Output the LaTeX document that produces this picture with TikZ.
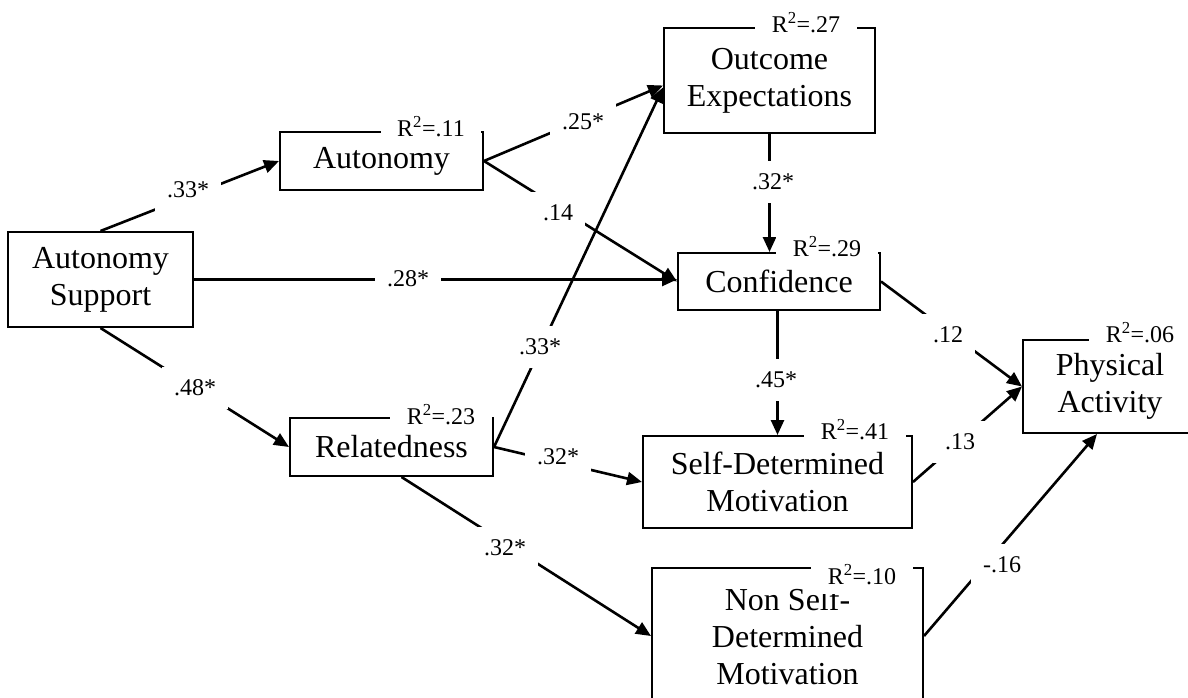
\documentclass[tikz,border=0pt]{standalone}
\usepackage{fontspec}
\setmainfont{Liberation Serif}
\usetikzlibrary{arrows.meta}
\tikzset{
  box/.style={draw, line width=2pt, inner sep=0pt, align=center,
    font=\fontsize{32}{37}\selectfont},
  link/.style={line width=2.6pt, -{Triangle[length=15pt,width=13pt]}},
  coef/.style={fill=white, inner xsep=12pt, inner ysep=13pt,
    font=\fontsize{24}{28}\selectfont},
  rsq/.style={fill=white, inner xsep=16.5pt, inner ysep=9pt,
    font=\fontsize{24}{28}\selectfont},
}
\begin{document}
\begin{tikzpicture}[x=1pt,y=-1pt]
\fill[white] (0,0) rectangle (1188,698);
\useasboundingbox (0,0) rectangle (1188,698);

% constructs
\node[box, minimum width=185pt, minimum height=95pt]  (as)  at (100.5,279.5) {Autonomy\\Support};
\node[box, minimum width=203pt, minimum height=58pt]  (aut) at (381.5,161)   {Autonomy};
\node[box, minimum width=211pt, minimum height=105pt] (out) at (769.5,80.5)  {Outcome\\Expectations};
\node[box, minimum width=202pt, minimum height=57pt]  (con) at (779,281.5)   {Confidence};
\node[box, minimum width=203pt, minimum height=58pt]  (rel) at (391.5,447)   {Relatedness};
\node[box, minimum width=269pt, minimum height=92pt]  (sdm) at (777.5,482)   {Self-Determined\\Motivation};
\node[box, minimum width=271pt, minimum height=136pt] (nsd) at (787.5,636)   {Non Self-\\Determined\\Motivation};
\node[box, minimum width=174pt, minimum height=93pt]  (pa)  at (1110,386.5)  {Physical\\Activity};

% paths
\draw[link] (as.north) -- (aut.west);
\draw[link] (as.east) -- (as.east -| con.west);
\draw[link] (as.south) -- (rel.west);
\draw[link] (aut.east) -- ([yshift=-5pt]out.west);
\draw[link] (aut.east) -- (con.west);
\draw[link] (rel.east) -- ([yshift=-7pt]out.west);
\draw[link] (rel.east) -- (sdm.west);
\draw[link] ([xshift=10pt]rel.south) -- (nsd.west);
\draw[link] (out.south) -- (out.south |- con.north);
\draw[link] (sdm.north |- con.south) -- (sdm.north);
\draw[link] (con.east) -- (pa.west);
\draw[link] (sdm.east) -- (pa.west);
\draw[link] (nsd.east) -- ([xshift=-13pt]pa.south);

% path coefficients
\node[coef] (k1)  at (188,190) {.33*};
\node[coef] (k2)  at (408,279) {.28*};
\node[coef] (k3)  at (195,388) {.48*};
\node[coef] (k4)  at (583,122) {.25*};
\node[coef] (k5)  at (558,213) {.14};
\node[coef] (k6)  at (540,347) {.33*};
\node[coef] (k7)  at (558,457) {.32*};
\node[coef] (k8)  at (505,548) {.32*};
\node[coef] (k9)  at (773,182) {.32*};
\node[coef] (k10) at (776,380) {.45*};
\node[coef] (k11) at (948,335) {.12};
\node[coef] (k12) at (960,442) {.13};
\node[coef] (k13) at (1002,565) {-.16};

% explained variance
\node[rsq] (r1) at (431,127)  {R\textsuperscript{2}=.11};
\node[rsq] (r2) at (806,23)   {R\textsuperscript{2}=.27};
\node[rsq] (r3) at (827,247)  {R\textsuperscript{2}=.29};
\node[rsq] (r4) at (441,415)  {R\textsuperscript{2}=.23};
\node[rsq] (r5) at (855,430)  {R\textsuperscript{2}=.41};
\node[rsq] (r6) at (862,575)  {R\textsuperscript{2}=.10};
\node[rsq] (r7) at (1140,333) {R\textsuperscript{2}=.06};
\end{tikzpicture}
\end{document}
